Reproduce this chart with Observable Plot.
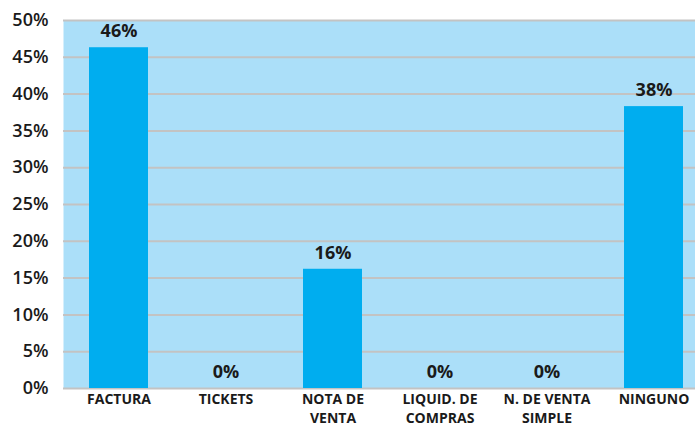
<!DOCTYPE html>
<html><head><meta charset="utf-8">
<script src="https://cdn.jsdelivr.net/npm/d3@7"></script>
<script src="https://cdn.jsdelivr.net/npm/@observablehq/plot@0.6"></script>
<style>body{margin:0;background:#fff;} #chart svg{display:block;}</style>
</head><body><div id="chart"></div>
<script>
const categories = ["FACTURA", "TICKETS", "NOTA DE\nVENTA", "LIQUID. DE\nCOMPRAS", "N. DE VENTA\nSIMPLE", "NINGUNO"];
const values = [46.3, 0, 16.2, 0, 0, 38.3];
const valueLabels = ["46%", "0%", "16%", "0%", "0%", "38%"];
const yTicks = [0, 5, 10, 15, 20, 25, 30, 35, 40, 45, 50];

const data = categories.map((c, i) => ({cat: c, value: values[i], label: valueLabels[i]}));
const font = "'Open Sans', sans-serif";

const plot = Plot.plot({
  width: 695, height: 427,
  marginLeft: 63, marginRight: 0, marginTop: 20, marginBottom: 39,
  style: {fontFamily: font, color: "#1a1a1a", background: "#fff", overflow: "visible"},
  x: {domain: categories, range: [64.7, 707.9], paddingInner: 0.45, paddingOuter: 0.225, label: null},
  y: {domain: [0, 50], label: null},
  marks: [
    Plot.frame({fill: "#abdff9", stroke: "none"}),
    Plot.gridY(yTicks, {stroke: "#c3c3c3", strokeWidth: 2, strokeOpacity: 1}),
    Plot.barY(data, {x: "cat", y: "value", fill: "#00adef"}),
    Plot.text(data, {x: "cat", y: "value", text: "label", dy: -16, fontSize: 18, fontWeight: "bold", fill: "#1a1a1a"}),
    Plot.axisY(yTicks, {tickSize: 0, tickPadding: 15, tickFormat: d => d + "%", fontSize: 18, fontWeight: 600, label: null}),
    Plot.axisX({tickSize: 0, tickPadding: 3, fontSize: 14, fontWeight: "bold", lineHeight: 1.3, label: null})
  ]
});
document.getElementById("chart").append(plot);
</script>
</body></html>
